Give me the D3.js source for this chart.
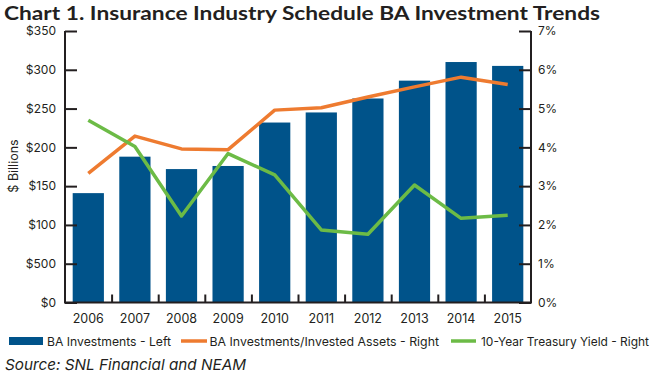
<!DOCTYPE html>
<html>
<head>
<meta charset="utf-8">
<script src="https://cdn.jsdelivr.net/npm/d3@7"></script>
<style>
  html, body { margin: 0; padding: 0; background: #fff; }
  svg { display: block; }
  text { fill: #231f20; }
</style>
</head>
<body>
<svg id="chart" width="654" height="375"></svg>
<script>
// ---- data ----
const years = ["2006","2007","2008","2009","2010","2011","2012","2013","2014","2015"];
const baInvestments = [141, 188, 172, 176, 232, 245, 263, 286, 310, 305];           // $ billions (left)
const baShareOfAssets = [3.33, 4.29, 3.96, 3.94, 4.96, 5.02, 5.30, 5.56, 5.81, 5.62]; // % (right)
const treasuryYield = [4.70, 4.02, 2.23, 3.84, 3.29, 1.87, 1.76, 3.03, 2.17, 2.25];   // % (right)
const leftTicks = [0, 50, 100, 150, 200, 250, 300, 350];
const leftTickLabels = ["$0", "$500", "$100", "$150", "$200", "$250", "$300", "$350"];
const rightTicks = [0, 1, 2, 3, 4, 5, 6, 7];
const seriesNames = ["BA Investments - Left", "BA Investments/Invested Assets - Right", "10-Year Treasury Yield - Right"];

const colors = { bar: "#00538a", orange: "#ee7b30", green: "#6cbb46", axis: "#231f20" };
const font = "Inter, 'Noto Sans', sans-serif";

const svg = d3.select("#chart");
const m = { left: 65, right: 531, top: 31, bottom: 302.5 };

const x = d3.scaleBand().domain(years).range([m.left, m.right]).paddingInner(0.33).paddingOuter(0.165);
const yL = d3.scaleLinear().domain([0, 350]).range([m.bottom, m.top]);
const yR = d3.scaleLinear().domain([0, 7]).range([m.bottom, m.top]);

// title
svg.append("text").attr("x", 4).attr("y", 19.5)
  .attr("font-family", "Lato, 'Open Sans', sans-serif").attr("font-weight", 700)
  .attr("font-size", 19.5).attr("textLength", 596).attr("lengthAdjust", "spacingAndGlyphs")
  .text("Chart 1. Insurance Industry Schedule BA Investment Trends");

// bars
svg.append("g").selectAll("rect").data(years).join("rect")
  .attr("x", d => x(d)).attr("width", x.bandwidth())
  .attr("y", (d, i) => yL(baInvestments[i]))
  .attr("height", (d, i) => yL(0) - yL(baInvestments[i]))
  .attr("fill", colors.bar);

// lines
const line = d3.line().x((d, i) => x(years[i]) + x.bandwidth() / 2).y(d => yR(d));
svg.append("path").datum(baShareOfAssets).attr("d", line)
  .attr("fill", "none").attr("stroke", colors.orange).attr("stroke-width", 3.5).attr("stroke-linejoin", "round");
svg.append("path").datum(treasuryYield).attr("d", line)
  .attr("fill", "none").attr("stroke", colors.green).attr("stroke-width", 3.5).attr("stroke-linejoin", "round");

// left axis
const axL = svg.append("g").attr("transform", `translate(${m.left},0)`)
  .call(d3.axisRight(yL).tickValues(leftTicks).tickSize(12).tickFormat(""));
axL.select(".domain").attr("d", `M0,${m.top}V${m.bottom}`);
axL.selectAll("line, path").attr("stroke", colors.axis).attr("stroke-width", 2);
svg.append("g").selectAll("text").data(leftTicks).join("text")
  .attr("x", 56).attr("y", d => yL(d)).attr("dy", "0.36em").attr("text-anchor", "end")
  .attr("font-family", font).attr("font-size", 12).text((d, i) => leftTickLabels[i]);

// right axis
const axR = svg.append("g").attr("transform", `translate(${m.right},0)`)
  .call(d3.axisLeft(yR).tickValues(rightTicks).tickSize(12).tickFormat(""));
axR.select(".domain").attr("d", `M0,${m.top}V${m.bottom}`);
axR.selectAll("line, path").attr("stroke", colors.axis).attr("stroke-width", 2);
svg.append("g").selectAll("text").data(rightTicks).join("text")
  .attr("x", 538).attr("y", d => yR(d)).attr("dy", "0.36em").attr("text-anchor", "start")
  .attr("font-family", font).attr("font-size", 12).text(d => d + "%");

// x axis
const xb = d3.scaleLinear().domain([0, years.length]).range([m.left, m.right]);
const axX = svg.append("g").attr("transform", `translate(0,${m.bottom})`)
  .call(d3.axisTop(xb).tickValues(d3.range(1, years.length)).tickSize(8).tickFormat(""));
axX.select(".domain").attr("d", `M${m.left - 1},0H${m.right + 1}`);
axX.selectAll("line, path").attr("stroke", colors.axis).attr("stroke-width", 2);
svg.append("g").selectAll("text").data(years).join("text")
  .attr("x", d => x(d) + x.bandwidth() / 2).attr("y", 323).attr("text-anchor", "middle")
  .attr("font-family", font).attr("font-size", 12.5).text(d => d);

// y-axis title
svg.append("text").attr("transform", "translate(18,166) rotate(-90)")
  .attr("text-anchor", "middle").attr("font-family", font).attr("font-size", 12.5)
  .text("$ Billions");

// legend
const lg = svg.append("g");
lg.append("rect").attr("x", 9).attr("y", 337).attr("width", 34).attr("height", 8).attr("fill", colors.bar);
lg.append("text").attr("x", 47).attr("y", 345.5).attr("font-family", font).attr("font-size", 12)
  .attr("textLength", 124).attr("lengthAdjust", "spacingAndGlyphs").text(seriesNames[0]);
lg.append("line").attr("x1", 181).attr("x2", 207).attr("y1", 341).attr("y2", 341)
  .attr("stroke", colors.orange).attr("stroke-width", 3.5);
lg.append("text").attr("x", 209.5).attr("y", 345.5).attr("font-family", font).attr("font-size", 12)
  .attr("textLength", 229.5).attr("lengthAdjust", "spacingAndGlyphs").text(seriesNames[1]);
lg.append("line").attr("x1", 451).attr("x2", 476).attr("y1", 341).attr("y2", 341)
  .attr("stroke", colors.green).attr("stroke-width", 3.5);
lg.append("text").attr("x", 481).attr("y", 345.5).attr("font-family", font).attr("font-size", 12)
  .attr("textLength", 168).attr("lengthAdjust", "spacingAndGlyphs").text(seriesNames[2]);

// source
svg.append("text").attr("x", 5).attr("y", 370).attr("font-family", font).attr("font-size", 15)
  .attr("font-style", "italic").attr("textLength", 241).attr("lengthAdjust", "spacingAndGlyphs")
  .text("Source: SNL Financial and NEAM");
</script>
</body>
</html>
